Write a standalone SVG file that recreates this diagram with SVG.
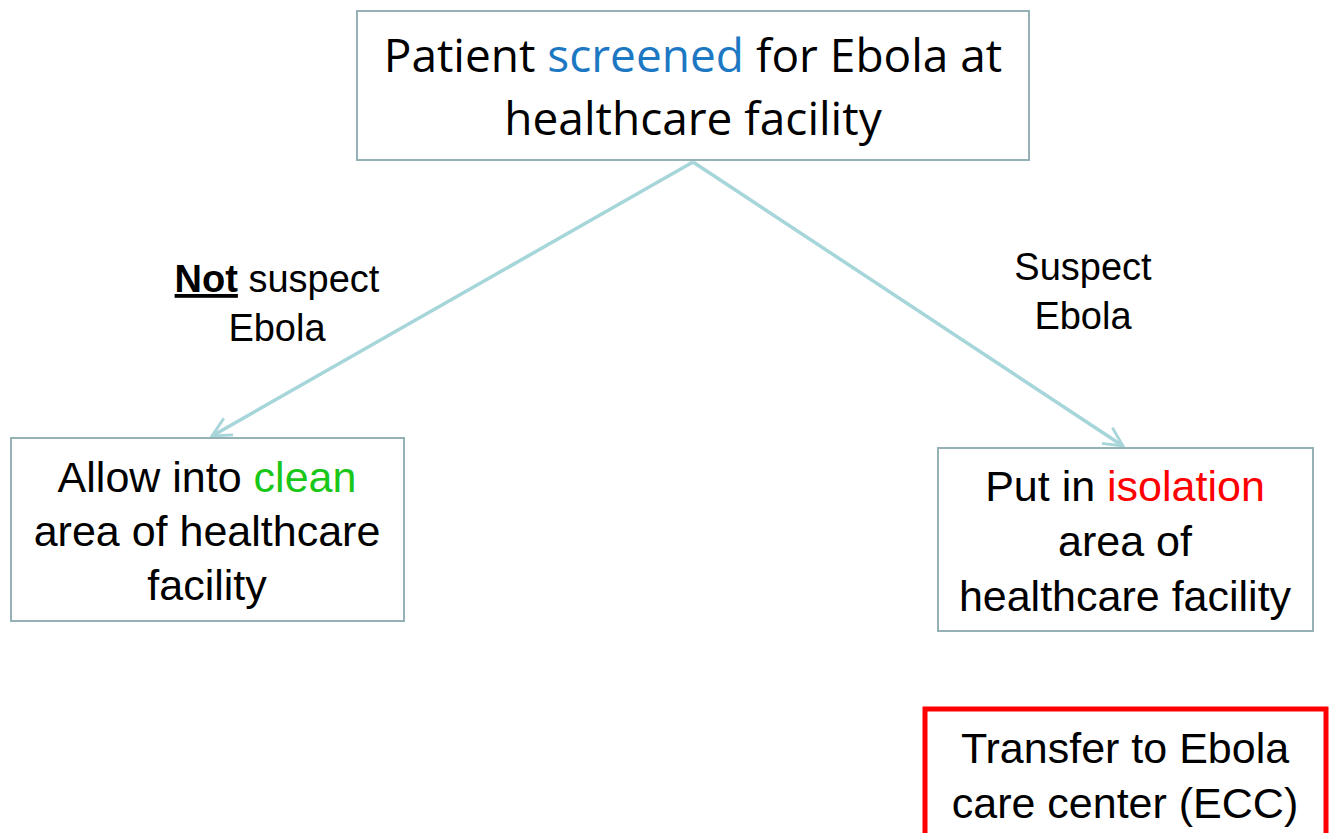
<svg xmlns="http://www.w3.org/2000/svg" width="1335" height="833" viewBox="0 0 1335 833">
<style>
.box{fill:#fff;stroke:#94b1b6;stroke-width:2}
.red{fill:#fff;stroke:#ff0000;stroke-width:5}
.t{font-family:"Liberation Sans",Arial,sans-serif;font-size:43px;fill:#000;text-anchor:middle}
.c{font-family:"Open Sans","Noto Sans",sans-serif;font-size:46px;fill:#000;text-anchor:middle}
.lbl{font-family:"Liberation Sans",Arial,sans-serif;font-size:38px;fill:#000;text-anchor:middle}
.conn{stroke:#a6d6da;stroke-width:3.5;fill:none}
</style>
<defs>
<marker id="ah" viewBox="0 0 12 12" refX="11" refY="6" markerWidth="6.5" markerHeight="6.5" orient="auto" markerUnits="strokeWidth">
<path d="M1,1 L11,6 L1,11" fill="none" stroke="#a6d6da" stroke-width="1.5"/>
</marker>
</defs>
<rect width="1335" height="833" fill="#fff"/>
<g id="connectors">
<line class="conn" x1="693" y1="162" x2="212" y2="436" marker-end="url(#ah)"/>
<line class="conn" x1="693" y1="162" x2="1123" y2="446" marker-end="url(#ah)"/>
<text class="lbl" x="277" y="292"><tspan font-weight="bold" text-decoration="underline">Not</tspan> suspect</text>
<text class="lbl" x="277" y="341">Ebola</text>
<text class="lbl" x="1083" y="280">Suspect</text>
<text class="lbl" x="1083" y="329">Ebola</text>
</g>
<g id="screen">
<rect class="box" x="357" y="11" width="672" height="149"/>
<text class="c" x="693" y="72">Patient <tspan fill="#1c78c3">screened</tspan> for Ebola at</text>
<text class="c" x="693" y="135">healthcare facility</text>
</g>
<g id="clean">
<rect class="box" x="11" y="438" width="393" height="183"/>
<text class="t" x="207" y="492">Allow into <tspan fill="#19c719">clean</tspan></text>
<text class="t" x="207" y="546">area of healthcare</text>
<text class="t" x="207" y="600">facility</text>
</g>
<g id="isolation">
<rect class="box" x="938" y="448" width="375" height="183"/>
<text class="t" x="1125" y="501">Put in <tspan fill="#ff0000">isolation</tspan></text>
<text class="t" x="1125" y="556">area of</text>
<text class="t" x="1125" y="611">healthcare facility</text>
</g>
<g id="ecc">
<rect class="red" x="925" y="709" width="401" height="140"/>
<text class="t" x="1125" y="763">Transfer to Ebola</text>
<text class="t" x="1125" y="818">care center (ECC)</text>
</g>
</svg>
